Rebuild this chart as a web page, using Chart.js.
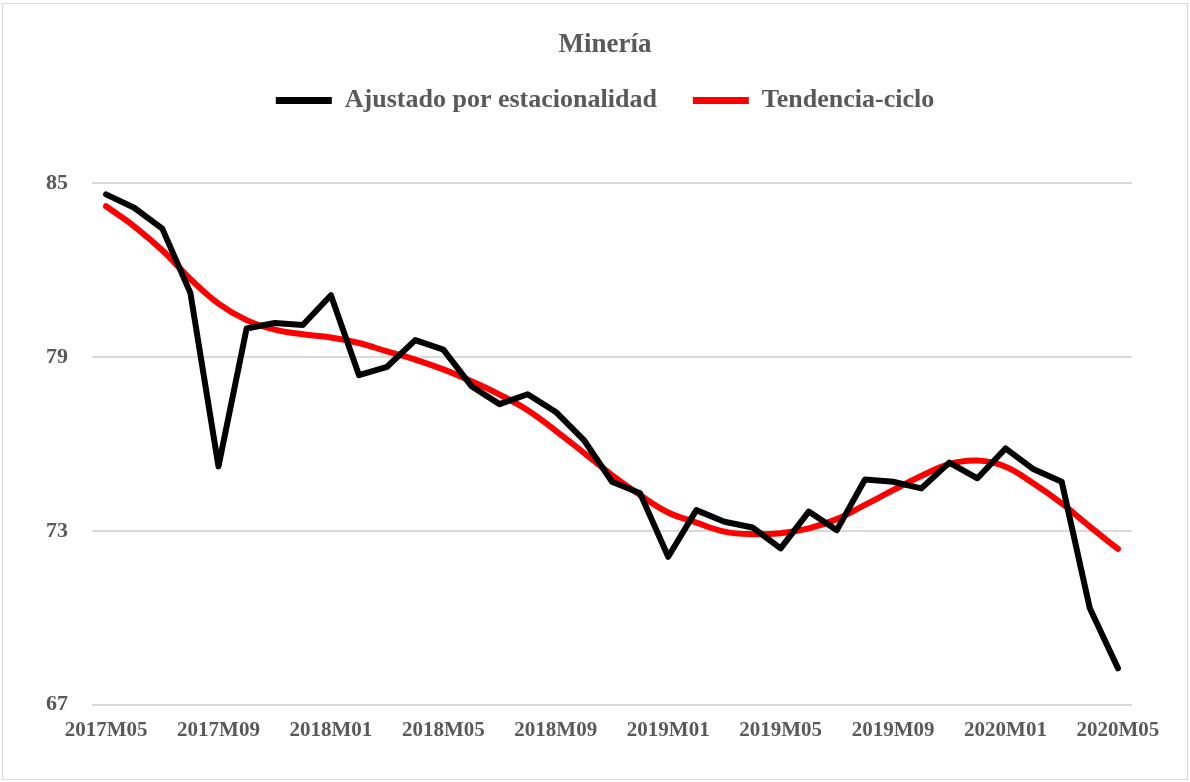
<!DOCTYPE html>
<html>
<head>
<meta charset="utf-8">
<script src="https://cdn.jsdelivr.net/npm/chart.js@4/dist/chart.umd.min.js"></script>
<style>
  html, body { margin: 0; padding: 0; background: #fff; }
  #wrap { position: absolute; left: 2px; top: 3px; width: 1186px; height: 777px; border: 1px solid #d9d9d9; box-sizing: border-box; }
  canvas { display: block; }
</style>
</head>
<body>
<div id="wrap"><canvas id="chart" width="1184" height="775"></canvas></div>
<script>
const months = [
  '2017M05','2017M06','2017M07','2017M08','2017M09','2017M10','2017M11','2017M12',
  '2018M01','2018M02','2018M03','2018M04','2018M05','2018M06','2018M07','2018M08',
  '2018M09','2018M10','2018M11','2018M12','2019M01','2019M02','2019M03','2019M04',
  '2019M05','2019M06','2019M07','2019M08','2019M09','2019M10','2019M11','2019M12',
  '2020M01','2020M02','2020M03','2020M04','2020M05'
];
const ajustado = [
  84.62, 84.16, 83.44, 81.22, 75.23, 79.99, 80.18, 80.11,
  81.14, 78.38, 78.67, 79.59, 79.26, 78.00, 77.38, 77.72,
  77.11, 76.14, 74.70, 74.30, 72.11, 73.72, 73.32, 73.12,
  72.40, 73.67, 73.03, 74.78, 74.70, 74.47, 75.36, 74.82,
  75.85, 75.13, 74.70, 70.33, 68.26
];
const tendencia = [
  84.21, 83.52, 82.69, 81.70, 80.85, 80.28, 79.95, 79.79,
  79.68, 79.49, 79.20, 78.92, 78.58, 78.17, 77.71, 77.17,
  76.46, 75.70, 74.93, 74.24, 73.64, 73.29, 72.98, 72.89,
  72.92, 73.09, 73.41, 73.90, 74.41, 74.90, 75.31, 75.43,
  75.22, 74.64, 73.95, 73.15, 72.38
];
const yTicks = [67, 73, 79, 85];

const grey = '#595959';
const serif = '"Liberation Serif", "Times New Roman", serif';

// push the plot area down below the legend, and centre title + legend over the plot
const legendGap = {
    id: 'legendGap',
    beforeInit(chart) {
        const fit = chart.legend.fit;
        chart.legend.fit = function () { fit.bind(chart.legend)(); this.height += 60; };
    },
    afterLayout(chart) {
        const shift = 28;
        [chart.titleBlock, chart.legend].forEach(b => { b.left += shift; b.right += shift; });
    }
};

new Chart(document.getElementById('chart'), {
    type: 'line',
    data: {
        labels: months,
        datasets: [
            { label: 'Ajustado por estacionalidad', data: ajustado, borderColor: '#000000', backgroundColor: '#000000',
              borderWidth: 6, pointRadius: 0, tension: 0, borderJoinStyle: 'round', borderCapStyle: 'round' },
            { label: 'Tendencia-ciclo', data: tendencia, borderColor: '#ff0000', backgroundColor: '#ff0000',
              borderWidth: 6, pointRadius: 0, tension: 0.4, borderJoinStyle: 'round', borderCapStyle: 'round' }
        ]
    },
    options: {
        responsive: false,
        animation: false,
        layout: { padding: { left: 19, right: 55, top: 0, bottom: 31 } },
        plugins: {
            title: { display: true, text: 'Minería', color: grey, font: { family: serif, size: 27, weight: 'bold' }, padding: { top: 25, bottom: -10 } },
            legend: {
                position: 'top',
                labels: {
                    color: grey, font: { family: serif, size: 26, weight: 'bold' }, padding: 36,
                    boxWidth: 56, boxHeight: 7,
                    generateLabels: (chart) => chart.data.datasets.map((ds, i) => ({
                        text: ds.label, fillStyle: ds.borderColor, strokeStyle: ds.borderColor, lineWidth: 0,
                        fontColor: grey, hidden: false, datasetIndex: i
                    }))
                }
            },
            tooltip: { enabled: false }
        },
        scales: {
            x: {
                offset: true,
                grid: { display: false },
                border: { display: false },
                ticks: {
                    autoSkip: false, maxRotation: 0, padding: 5, color: grey,
                    font: { family: serif, size: 21, weight: 'bold' },
                    callback: (v, i) => i % 4 === 0 ? months[i] : ''
                }
            },
            y: {
                min: yTicks[0], max: yTicks[yTicks.length - 1],
                afterBuildTicks: (s) => { s.ticks = yTicks.map(v => ({ value: v })); },
                grid: { color: '#d9d9d9', lineWidth: 2, drawTicks: false },
                border: { display: false },
                ticks: { padding: 24, color: grey, font: { family: serif, size: 22, weight: 'bold' } }
            }
        }
    },
    plugins: [legendGap]
});
</script>
</body>
</html>
